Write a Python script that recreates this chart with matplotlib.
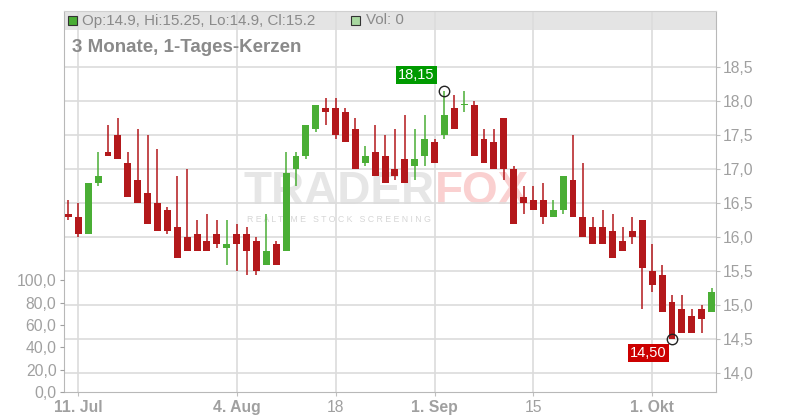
import numpy as np
import pandas as pd
import matplotlib
matplotlib.use('Agg')
import matplotlib.pyplot as plt
from matplotlib.patches import Rectangle

plt.rcParams['font.family'] = ['Liberation Sans', 'DejaVu Sans']

# Daily candles, 10 Jul - 9 Oct 2025 (business days)
dates = pd.bdate_range('2025-07-10', '2025-10-09')

opens = [16.35, 16.30, 16.05, 16.80, 17.25, 17.50, 17.10, 16.85, 16.65, 16.50,
         16.40, 16.15, 16.00, 16.05, 15.95, 16.05, 15.85, 16.05, 16.05, 15.95,
         15.60, 15.90, 15.80, 17.00, 17.20, 17.60, 17.90, 17.90, 17.85, 17.60,
         17.10, 17.25, 17.20, 17.00, 17.15, 17.05, 17.20, 17.40, 17.50, 17.90,
         17.95, 17.95, 17.45, 17.40, 17.75, 17.00, 16.60, 16.55, 16.55, 16.30,
         16.40, 16.85, 16.30, 16.15, 16.15, 16.10, 15.95, 16.10, 16.25, 15.50,
         15.45, 15.05, 14.95, 14.85, 14.95, 14.90]
highs = [16.55, 16.50, 16.80, 17.25, 17.65, 17.75, 17.25, 17.60, 17.50, 17.30,
         16.45, 16.90, 17.00, 16.25, 16.35, 16.25, 16.25, 16.20, 16.15, 16.00,
         16.35, 15.95, 17.25, 17.25, 17.65, 17.95, 18.05, 18.05, 17.90, 17.75,
         17.35, 17.65, 17.50, 17.60, 17.80, 17.60, 17.80, 17.45, 18.15, 18.10,
         18.15, 18.00, 17.60, 17.60, 17.75, 17.05, 16.75, 16.75, 16.80, 16.55,
         16.90, 17.50, 17.10, 16.30, 16.40, 16.35, 16.15, 16.30, 16.25, 15.90,
         15.60, 15.15, 15.15, 14.95, 15.00, 15.25]
lows = [16.25, 16.00, 16.05, 16.75, 17.20, 17.15, 16.60, 16.50, 16.20, 16.10,
        16.05, 15.70, 15.80, 15.80, 15.80, 15.85, 15.60, 15.50, 15.45, 15.45,
        15.60, 15.60, 15.80, 16.75, 17.15, 17.55, 17.65, 17.45, 17.40, 17.00,
        17.05, 16.90, 16.80, 16.85, 16.80, 16.85, 17.05, 17.10, 17.45, 17.60,
        17.85, 17.20, 17.10, 17.00, 16.85, 16.20, 16.35, 16.40, 16.20, 16.30,
        16.35, 16.30, 16.00, 15.90, 15.90, 15.70, 15.80, 15.90, 14.95, 15.20,
        14.90, 14.50, 14.60, 14.60, 14.60, 14.90]
closes = [16.30, 16.05, 16.80, 16.90, 17.20, 17.15, 16.60, 16.50, 16.20, 16.10,
          16.10, 15.70, 15.80, 15.80, 15.80, 15.90, 15.90, 15.90, 15.80, 15.50,
          15.80, 15.60, 16.95, 17.20, 17.65, 17.95, 17.85, 17.50, 17.40, 17.00,
          17.20, 16.90, 16.80, 16.90, 16.80, 17.15, 17.45, 17.10, 17.80, 17.60,
          17.95, 17.20, 17.10, 17.00, 17.00, 16.20, 16.50, 16.40, 16.30, 16.40,
          16.90, 16.30, 16.00, 15.90, 15.90, 15.70, 15.80, 16.00, 15.55, 15.30,
          14.90, 14.50, 14.60, 14.60, 14.80, 15.20]
volume = [0] * len(dates)

tick_dates = ['2025-07-11', '2025-08-04', '2025-08-18', '2025-09-01', '2025-09-15', '2025-10-01']
tick_labels = ['11. Jul', '4. Aug', '18', '1. Sep', '15', '1. Okt']
price_ticks = [14.0, 14.5, 15.0, 15.5, 16.0, 16.5, 17.0, 17.5, 18.0, 18.5]
vol_ticks = [0, 20, 40, 60, 80, 100]

RED = '#b3181b'
GREEN = '#4aae35'
GRID = '#dcdcdc'
LABEL = '#a0a0a0'

W, H = 800, 420
def fx(x):
    return x / W
def fy(y):
    return 1 - y / H

fig = plt.figure(figsize=(8, 4.2), dpi=100)
fig.patch.set_facecolor('white')
top_px, bot_px, left_px, right_px = 11, 392, 63.5, 716
ax = fig.add_axes([fx(left_px), fy(bot_px), (right_px - left_px) / W, (bot_px - top_px) / H])
ax.patch.set_alpha(0)  # let the watermark behind show through
axv = ax.twinx()   # volume scale on the left

o = np.array(opens); h = np.array(highs); l = np.array(lows); c = np.array(closes)
x = np.arange(len(dates))
up = c >= o
colors = np.where(up, GREEN, RED)
body_lo = np.minimum(o, c)
body_h = np.maximum(np.abs(c - o), 0.015)

ax.vlines(x, l, h, colors=colors, linewidth=1.1, zorder=3)
ax.bar(x, body_h, bottom=body_lo, width=0.7, color=colors, linewidth=0, zorder=4)

ax.set_xlim(-0.5, len(dates) - 0.55)
ax.set_ylim(13.725, 19.33)

# grid + header band
ax.set_axisbelow(True)
ax.grid(True, color=GRID, linewidth=1.2)
band_h = (30 - top_px) / (bot_px - top_px)
ax.add_patch(Rectangle((0, 1 - band_h), 1, band_h, transform=ax.transAxes,
                       facecolor='#e4e4e4', edgecolor='none', zorder=0))

# right price axis
ax.yaxis.tick_right()
ax.yaxis.set_label_position('right')
ax.set_yticks(price_ticks)
ax.set_yticklabels([f'{v:.1f}'.replace('.', ',') for v in price_ticks])
ax.tick_params(axis='y', length=3, pad=2, colors='#c0c0c0', labelcolor=LABEL, labelsize=11.3)

# bottom date axis
pos = [dates.get_loc(pd.Timestamp(d)) for d in tick_dates]
ax.set_xticks(pos)
ax.set_xticklabels(tick_labels)
for t, lab in zip(ax.get_xticklabels(), tick_labels):
    if '.' in lab:
        t.set_fontweight('bold')
ax.tick_params(axis='x', length=3, pad=3, colors='#c0c0c0', labelcolor=LABEL, labelsize=11.3)

for s in ax.spines.values():
    s.set_color('#b8b8b8')
ax.spines['top'].set_color('#d0d0d0')

# left volume axis
axv.bar(x, volume, width=0.7, color='#a8d8a0', zorder=1)
axv.set_ylim(0, 341)
axv.yaxis.tick_left()
axv.yaxis.set_label_position('left')
axv.set_yticks(vol_ticks)
axv.set_yticklabels([f'{v:.1f}'.replace('.', ',') for v in vol_ticks])
axv.tick_params(axis='y', length=3, pad=2, colors='#a0a0a0', labelcolor=LABEL, labelsize=11.3)
for s in axv.spines.values():
    s.set_visible(False)

# watermark (drawn behind the axes)
fig.text(fx(435), fy(192), 'TRADER', ha='right', va='center', fontsize=33,
         fontweight='bold', color='#e6e6e6', zorder=-1)
fig.text(fx(435), fy(192), 'FOX', ha='left', va='center', fontsize=33,
         fontweight='bold', color='#fad0d0', zorder=-1)
fig.text(fx(339), fy(219), 'R E A L T I M E   S T O C K   S C R E E N I N G',
         ha='center', va='center', fontsize=6.3, color='#d6d6d6', zorder=-1)

# high / low markers
ih = int(np.argmax(h)); il = int(np.argmin(l))
ax.plot([ih, il], [h[ih], l[il]], 'o', mfc='none', mec='#222222', ms=7.5, mew=1, zorder=6)
ax.annotate(f'{h[ih]:.2f}'.replace('.', ','), xy=(ih, h[ih]), xytext=(-7, 11.5),
            textcoords='offset points', ha='right', va='center', color='white', fontsize=10.5,
            bbox=dict(boxstyle='square,pad=0.15', fc='#009a00', ec='none'), zorder=7)
ax.annotate(f'{l[il]:.2f}'.replace('.', ','), xy=(il, l[il]), xytext=(-4, -10),
            textcoords='offset points', ha='right', va='center', color='white', fontsize=10.5,
            bbox=dict(boxstyle='square,pad=0.15', fc='#cc0000', ec='none'), zorder=7)

# header info line
last = len(dates) - 1
fig.patches.append(Rectangle((fx(68), fy(25)), 9 / W, 9 / H, transform=fig.transFigure,
                             facecolor=GREEN, edgecolor='#333333', linewidth=0.8))
fig.text(fx(82), fy(20.5), f'Op:{o[last]:g}, Hi:{h[last]:g}, Lo:{l[last]:g}, Cl:{c[last]:g}',
         ha='left', va='center', fontsize=10.9, color='#8a8a8a')
fig.patches.append(Rectangle((fx(351), fy(25)), 9 / W, 9 / H, transform=fig.transFigure,
                             facecolor='#a8d8a0', edgecolor='#333333', linewidth=0.8))
fig.text(fx(366), fy(20.5), f'Vol: {volume[last]}', ha='left', va='center',
         fontsize=10.9, color='#8a8a8a')
fig.text(fx(72), fy(47.5), '3 Monate, 1-Tages-Kerzen', ha='left', va='center',
         fontsize=13.5, fontweight='bold', color='#8a8a8a')

fig.savefig('out.png', dpi=100, facecolor='white')
